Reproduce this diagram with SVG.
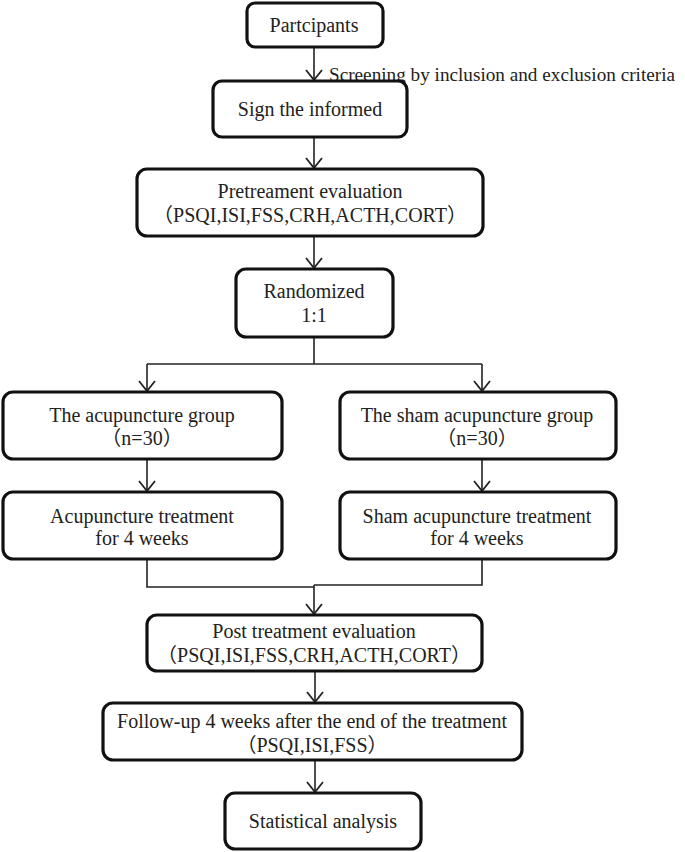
<svg xmlns="http://www.w3.org/2000/svg" width="685" height="852" viewBox="0 0 685 852">
<style>
.box{fill:#fff;stroke:#111;stroke-width:3.2}
.t{font-family:"Liberation Serif","Noto Sans CJK SC",serif;font-size:20px;fill:#222;text-anchor:middle}
.c{fill:none;stroke:#222;stroke-width:1.6}
</style>
<defs>
<marker id="ah" markerUnits="userSpaceOnUse" markerWidth="20" markerHeight="20" refX="10" refY="10" orient="auto" overflow="visible">
<path d="M0,2 L10,10 L0,18" fill="none" stroke="#222" stroke-width="1.8"/>
</marker>
</defs>
<rect width="685" height="852" fill="#fff"/>
<g id="connectors">
<line class="c" x1="314" y1="47" x2="314" y2="80" marker-end="url(#ah)"/>
<line class="c" x1="314" y1="137" x2="314" y2="168" marker-end="url(#ah)"/>
<line class="c" x1="314" y1="236" x2="314" y2="268" marker-end="url(#ah)"/>
<polyline class="c" points="314,337 314,364"/>
<polyline class="c" points="147,364 482,364"/>
<line class="c" x1="147" y1="364" x2="147" y2="391" marker-end="url(#ah)"/>
<line class="c" x1="482" y1="364" x2="482" y2="391" marker-end="url(#ah)"/>
<line class="c" x1="147" y1="459" x2="147" y2="491" marker-end="url(#ah)"/>
<line class="c" x1="482" y1="459" x2="482" y2="491" marker-end="url(#ah)"/>
<polyline class="c" points="147,559 147,587 314,587"/>
<polyline class="c" points="482,559 482,585 314,585"/>
<line class="c" x1="314" y1="585" x2="314" y2="614" marker-end="url(#ah)"/>
<line class="c" x1="315" y1="671" x2="315" y2="702" marker-end="url(#ah)"/>
<line class="c" x1="315" y1="760" x2="315" y2="792" marker-end="url(#ah)"/>
<text class="t" x="329" y="81" style="text-anchor:start;font-size:18.6px" textLength="346" lengthAdjust="spacingAndGlyphs">Screening by inclusion and exclusion criteria</text>
</g>
<g id="participants">
<rect class="box" x="247" y="3" width="136" height="44" rx="8"/>
<text class="t" x="314" y="32">Partcipants</text>
</g>
<g id="sign">
<rect class="box" x="213" y="81" width="194" height="56" rx="9"/>
<text class="t" x="310" y="116">Sign the informed</text>
</g>
<g id="pretreatment">
<rect class="box" x="137" y="169" width="346" height="67" rx="10"/>
<text class="t" x="310" y="198">Pretreament evaluation</text>
<text class="t" x="310" y="222">（PSQI,ISI,FSS,CRH,ACTH,CORT）</text>
</g>
<g id="randomized">
<rect class="box" x="236" y="269" width="157" height="68" rx="10"/>
<text class="t" x="314" y="298">Randomized</text>
<text class="t" x="314" y="322">1:1</text>
</g>
<g id="acu-group">
<rect class="box" x="3" y="392" width="279" height="67" rx="10"/>
<text class="t" x="142" y="422">The acupuncture group</text>
<text class="t" x="142" y="445">（n=30）</text>
</g>
<g id="sham-group">
<rect class="box" x="340" y="392" width="276" height="67" rx="10"/>
<text class="t" x="477" y="422">The sham acupuncture group</text>
<text class="t" x="477" y="445">（n=30）</text>
</g>
<g id="acu-treatment">
<rect class="box" x="3" y="492" width="279" height="67" rx="10"/>
<text class="t" x="142" y="523">Acupuncture treatment</text>
<text class="t" x="142" y="545">for 4 weeks</text>
</g>
<g id="sham-treatment">
<rect class="box" x="340" y="492" width="276" height="67" rx="10"/>
<text class="t" x="477" y="523">Sham acupuncture treatment</text>
<text class="t" x="477" y="545">for 4 weeks</text>
</g>
<g id="post">
<rect class="box" x="147" y="615" width="335" height="56" rx="10"/>
<text class="t" x="314" y="638">Post treatment evaluation</text>
<text class="t" x="314" y="662">（PSQI,ISI,FSS,CRH,ACTH,CORT）</text>
</g>
<g id="followup">
<rect class="box" x="103" y="703" width="419" height="57" rx="10"/>
<text class="t" x="312" y="728">Follow-up 4 weeks after the end of the treatment</text>
<text class="t" x="312" y="752">（PSQI,ISI,FSS）</text>
</g>
<g id="statistical">
<rect class="box" x="225" y="793" width="196" height="56" rx="10"/>
<text class="t" x="323" y="828">Statistical analysis</text>
</g>
</svg>
